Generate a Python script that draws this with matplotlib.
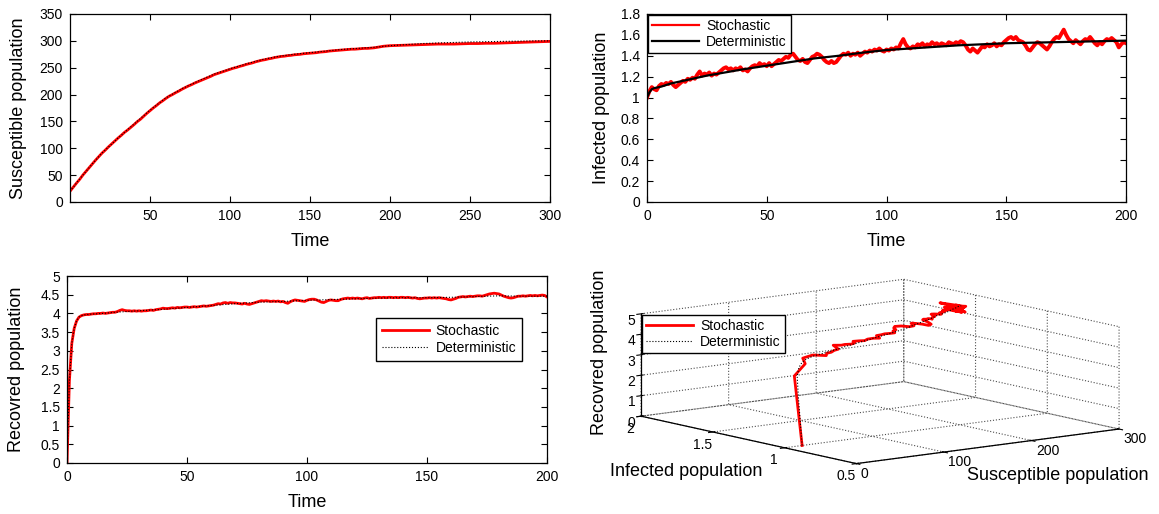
import numpy as np
import matplotlib
matplotlib.use("Agg")
import matplotlib.pyplot as plt

plt.rcParams['font.family'] = ['Liberation Sans', 'DejaVu Sans']
plt.rcParams['axes.linewidth'] = 0.9

# ---- data ----
# susceptible, stochastic path (t = 0..200 step 2, then 205..300 step 5)
t_s = np.r_[0:201:2, 205:301:5]
S_stoch = [20, 27.5, 35, 42, 50, 57, 64, 71, 78, 84.5,
           91, 96.5, 102.5, 108, 113.5, 119, 124, 129.5, 134, 139,
           144, 149.5, 154, 159.5, 165, 170, 175, 179.5, 184.5, 188.5,
           193, 197, 200, 203.5, 206.5, 210, 213, 216, 218.5, 221.5,
           224, 226.5, 229, 231.5, 234, 237, 239, 241, 243, 245,
           247, 249, 250.5, 252.5, 254, 256, 257.5, 259, 261, 262.5,
           264, 265, 266.5, 267.5, 269, 270, 271, 271.5, 272.5, 273,
           274, 274.5, 275, 276, 276.5, 277, 277.5, 278, 279, 279.5,
           280, 281, 281.5, 282, 282.5, 283, 283.5, 284, 284.5, 284.5,
           285, 285.5, 286, 286, 286.5, 287, 288, 289, 290, 290.5,
           291,
           291.5, 292, 292.5, 293, 293.5, 294, 294, 294, 294.5, 295,
           295, 295.5, 295.5, 296, 296.5, 297, 297.5, 298, 298.5, 299]

# infected and recovered, stochastic path (t = 0..200 step 1)
t_ir = np.arange(0, 201)
I_stoch = [1.00, 1.06, 1.10, 1.08, 1.07, 1.11, 1.13, 1.12, 1.14, 1.13,
           1.15, 1.12, 1.10, 1.12, 1.14, 1.16, 1.15, 1.18, 1.17, 1.19,
           1.18, 1.22, 1.25, 1.21, 1.23, 1.22, 1.24, 1.21, 1.23, 1.22,
           1.24, 1.26, 1.28, 1.29, 1.27, 1.28, 1.26, 1.28, 1.27, 1.29,
           1.26, 1.27, 1.25, 1.28, 1.30, 1.31, 1.30, 1.33, 1.31, 1.32,
           1.30, 1.33, 1.30, 1.32, 1.34, 1.36, 1.35, 1.37, 1.39, 1.38,
           1.41, 1.42, 1.39, 1.36, 1.35, 1.37, 1.34, 1.33, 1.36, 1.39,
           1.40, 1.42, 1.41, 1.39, 1.36, 1.34, 1.33, 1.35, 1.33, 1.34,
           1.37, 1.40, 1.42, 1.41, 1.43, 1.40, 1.42, 1.41, 1.43, 1.40,
           1.42, 1.44, 1.43, 1.45, 1.44, 1.46, 1.45, 1.47, 1.45, 1.44,
           1.46, 1.45, 1.47, 1.46, 1.48, 1.47, 1.52, 1.56, 1.51, 1.48,
           1.47, 1.49, 1.48, 1.51, 1.50, 1.52, 1.49, 1.51, 1.50, 1.53,
           1.51, 1.52, 1.50, 1.52, 1.51, 1.50, 1.53, 1.52, 1.51, 1.53,
           1.52, 1.54, 1.53, 1.50, 1.46, 1.44, 1.47, 1.45, 1.43, 1.46,
           1.49, 1.48, 1.51, 1.49, 1.50, 1.52, 1.49, 1.51, 1.50, 1.53,
           1.55, 1.57, 1.58, 1.56, 1.58, 1.55, 1.54, 1.53, 1.50, 1.46,
           1.45, 1.48, 1.51, 1.53, 1.52, 1.50, 1.48, 1.46, 1.49, 1.53,
           1.56, 1.58, 1.57, 1.61, 1.65, 1.60, 1.56, 1.54, 1.52, 1.55,
           1.53, 1.51, 1.54, 1.56, 1.55, 1.58, 1.55, 1.52, 1.50, 1.53,
           1.51, 1.54, 1.56, 1.55, 1.57, 1.55, 1.53, 1.48, 1.51, 1.53,
           1.52]
R_stoch = [0.00, 2.20, 3.20, 3.60, 3.80, 3.90, 3.94, 3.96, 3.97, 3.97,
           3.98, 3.99, 3.99, 4.00, 4.00, 4.01, 4.00, 4.01, 4.02, 4.03,
           4.03, 4.05, 4.08, 4.10, 4.08, 4.07, 4.07, 4.06, 4.07, 4.06,
           4.07, 4.06, 4.07, 4.07, 4.08, 4.09, 4.08, 4.10, 4.11, 4.12,
           4.14, 4.13, 4.13, 4.14, 4.15, 4.14, 4.16, 4.15, 4.16, 4.17,
           4.17, 4.16, 4.17, 4.18, 4.17, 4.18, 4.19, 4.20, 4.19, 4.20,
           4.21, 4.22, 4.24, 4.26, 4.25, 4.28, 4.29, 4.27, 4.29, 4.28,
           4.28, 4.27, 4.26, 4.25, 4.27, 4.25, 4.24, 4.26, 4.28, 4.30,
           4.32, 4.34, 4.33, 4.34, 4.33, 4.32, 4.33, 4.32, 4.33, 4.31,
           4.32, 4.29, 4.27, 4.31, 4.34, 4.36, 4.35, 4.34, 4.33, 4.32,
           4.35, 4.37, 4.38, 4.38, 4.36, 4.33, 4.30, 4.29, 4.32, 4.35,
           4.36, 4.35, 4.34, 4.34, 4.37, 4.39, 4.40, 4.41, 4.40, 4.41,
           4.40, 4.41, 4.40, 4.39, 4.41, 4.42, 4.40, 4.41, 4.42, 4.42,
           4.43, 4.42, 4.43, 4.42, 4.43, 4.43, 4.42, 4.43, 4.42, 4.43,
           4.43, 4.42, 4.43, 4.42, 4.41, 4.42, 4.40, 4.39, 4.40, 4.41,
           4.41, 4.42, 4.41, 4.42, 4.41, 4.42, 4.41, 4.40, 4.39, 4.37,
           4.36, 4.38, 4.40, 4.43, 4.44, 4.45, 4.44, 4.45, 4.46, 4.45,
           4.46, 4.47, 4.47, 4.46, 4.48, 4.50, 4.52, 4.53, 4.54, 4.53,
           4.52, 4.49, 4.46, 4.44, 4.42, 4.41, 4.42, 4.44, 4.46, 4.46,
           4.47, 4.46, 4.47, 4.48, 4.47, 4.48, 4.47, 4.48, 4.49, 4.48,
           4.44]

# deterministic solution
t_det = [0, 1, 2, 3, 4, 5, 6, 8, 10, 15, 20, 25, 30, 40, 50, 60, 70, 80,
         90, 100, 110, 120, 130, 140, 150, 160, 170, 180, 190, 200]
t_det_s = t_det + [210, 220, 230, 240, 250, 260, 270, 280, 290, 300]
S_det = [20, 24, 27.5, 31, 35, 39, 42.5, 50, 57, 74.5, 91, 105, 119, 145,
         171, 194, 211, 225, 238, 248, 257, 265, 271, 275, 278, 281, 284,
         286, 288, 291, 293, 295, 296, 297, 298, 298.5, 299, 299.5, 300, 300]
I_det = [1.0, 1.05, 1.08, 1.09, 1.095, 1.10, 1.105, 1.12, 1.135, 1.16,
         1.185, 1.21, 1.23, 1.27, 1.305, 1.34, 1.375, 1.40, 1.43, 1.455,
         1.47, 1.485, 1.50, 1.51, 1.52, 1.525, 1.53, 1.535, 1.54, 1.545]
R_det = [0.0, 2.2, 3.2, 3.6, 3.8, 3.9, 3.94, 3.97, 3.98, 4.0, 4.03, 4.05,
         4.07, 4.11, 4.16, 4.21, 4.26, 4.30, 4.32, 4.35, 4.37, 4.39, 4.41,
         4.42, 4.42, 4.43, 4.45, 4.47, 4.46, 4.46]

RED = '#ff0000'
W, H = 1159, 514


def rect(x0, y0, x1, y1):
    return [x0 / W, 1 - y1 / H, (x1 - x0) / W, (y1 - y0) / H]


def style_2d(ax):
    ax.tick_params(direction='in', top=True, right=True, length=4,
                   width=0.8, labelsize=10, pad=5)
    for sp in ax.spines.values():
        sp.set_linewidth(0.9)


fig = plt.figure(figsize=(W / 100, H / 100), dpi=100)

# panel 1: susceptible
ax1 = fig.add_axes(rect(70, 14, 550, 202))
ax1.plot(t_s, S_stoch, color=RED, lw=2.0, label='Stochastic')
ax1.plot(t_det_s, S_det, color='k', lw=0.8, ls=':', label='Deterministic')
ax1.set_xlim(0, 300)
ax1.set_ylim(0, 350)
ax1.set_xticks([50, 100, 150, 200, 250, 300])
ax1.set_yticks(range(0, 351, 50))
ax1.set_xlabel('Time', fontsize=13, labelpad=7)
ax1.set_ylabel('Susceptible population', fontsize=13, labelpad=9)
style_2d(ax1)

# panel 2: infected
ax2 = fig.add_axes(rect(647, 14, 1126, 202))
ax2.plot(t_ir, I_stoch, color=RED, lw=2.8, label='Stochastic')
ax2.plot(t_det, I_det, color='k', lw=1.6, label='Deterministic')
ax2.set_xlim(0, 200)
ax2.set_ylim(0, 1.8)
ax2.set_xticks([0, 50, 100, 150, 200])
ax2.set_yticks(np.arange(0, 1.81, 0.2))
ax2.set_yticklabels(['0', '0.2', '0.4', '0.6', '0.8', '1', '1.2', '1.4',
                     '1.6', '1.8'])
ax2.set_xlabel('Time', fontsize=13, labelpad=7)
ax2.set_ylabel('Infected population', fontsize=13, labelpad=8)
style_2d(ax2)
leg2 = ax2.legend(loc='upper left', fontsize=10, fancybox=False,
                  edgecolor='k', framealpha=1, borderaxespad=0.05,
                  handlelength=3.4, borderpad=0.3, labelspacing=0.15,
                  handletextpad=0.5)
leg2.get_lines()[0].set_linewidth(1.6)

# panel 3: recovered
ax3 = fig.add_axes(rect(67, 276, 547, 463))
ax3.plot(t_ir, R_stoch, color=RED, lw=2.0, label='Stochastic')
ax3.plot(t_det, R_det, color='k', lw=0.8, ls=':', label='Deterministic')
ax3.set_xlim(0, 200)
ax3.set_ylim(0, 5)
ax3.set_xticks([0, 50, 100, 150, 200])
ax3.set_yticks(np.arange(0, 5.01, 0.5))
ax3.set_yticklabels(['0', '0.5', '1', '1.5', '2', '2.5', '3', '3.5', '4',
                     '4.5', '5'])
ax3.set_xlabel('Time', fontsize=13, labelpad=7)
ax3.set_ylabel('Recovred population', fontsize=13, labelpad=11)
style_2d(ax3)
ax3.legend(loc='upper left', bbox_to_anchor=(376 / W, 1 - 318 / H),
           bbox_transform=fig.transFigure, fontsize=10, fancybox=False,
           edgecolor='k', framealpha=1, borderaxespad=0, handlelength=3.4,
           borderpad=0.4, labelspacing=0.25, handletextpad=0.5)

# panel 4: phase portrait in 3D
plt.rcParams['grid.linestyle'] = ':'
plt.rcParams['grid.color'] = '0.3'
plt.rcParams['grid.linewidth'] = 0.8
ax4 = fig.add_axes(rect(597, 243, 1156, 507), projection='3d')
ax4.patch.set_alpha(0)
ax4.set_proj_type('ortho')
ax4.view_init(elev=9.8, azim=-127.7)
ax4.set_box_aspect((0.943, 1, 0.295), zoom=1.82)
ax4.plot(S_stoch[:101], I_stoch[::2], R_stoch[::2], color=RED, lw=2.0,
         label='Stochastic')
ax4.plot(S_det[:len(t_det)], I_det, R_det, color='k', lw=0.8, ls=':',
         label='Deterministic')
ax4.set_xlim(0, 300)
ax4.set_ylim(0.5, 2)
ax4.set_zlim(0, 5)
ax4.set_xticks([0, 100, 200, 300])
ax4.set_yticks([0.5, 1, 1.5, 2])
ax4.set_yticklabels(['0.5', '1', '1.5', '2'])
ax4.set_zticks([0, 1, 2, 3, 4, 5])
ax4.tick_params(labelsize=10)
ax4.xaxis.set_tick_params(pad=-6)
ax4.yaxis.set_tick_params(pad=-4)
ax4.zaxis.set_tick_params(pad=-6)
for lbl in ax4.get_xticklabels():
    lbl.set_horizontalalignment('left')
for axis in (ax4.xaxis, ax4.yaxis, ax4.zaxis):
    axis.pane.fill = False
    axis.pane.set_edgecolor('none')
    axis.line.set_color('k')
    axis.line.set_linewidth(0.9)
fig.text(600 / W, 1 - 352 / H, 'Recovred population', fontsize=13,
         rotation=90, ha='center', va='center')
fig.legend(*ax4.get_legend_handles_labels(), loc='upper left',
           bbox_to_anchor=(642 / W, 1 - 315 / H), fontsize=10,
           fancybox=False, edgecolor='k', framealpha=1, borderaxespad=0,
           handlelength=3.4, borderpad=0.3, labelspacing=0.15,
           handletextpad=0.5)
fig.text(686 / W, 1 - 471 / H, 'Infected population', fontsize=13,
         ha='center', va='center')
fig.text(1058 / W, 1 - 476 / H, 'Susceptible population', fontsize=13,
         ha='center', va='center')

fig.savefig('out.png', dpi=100)
